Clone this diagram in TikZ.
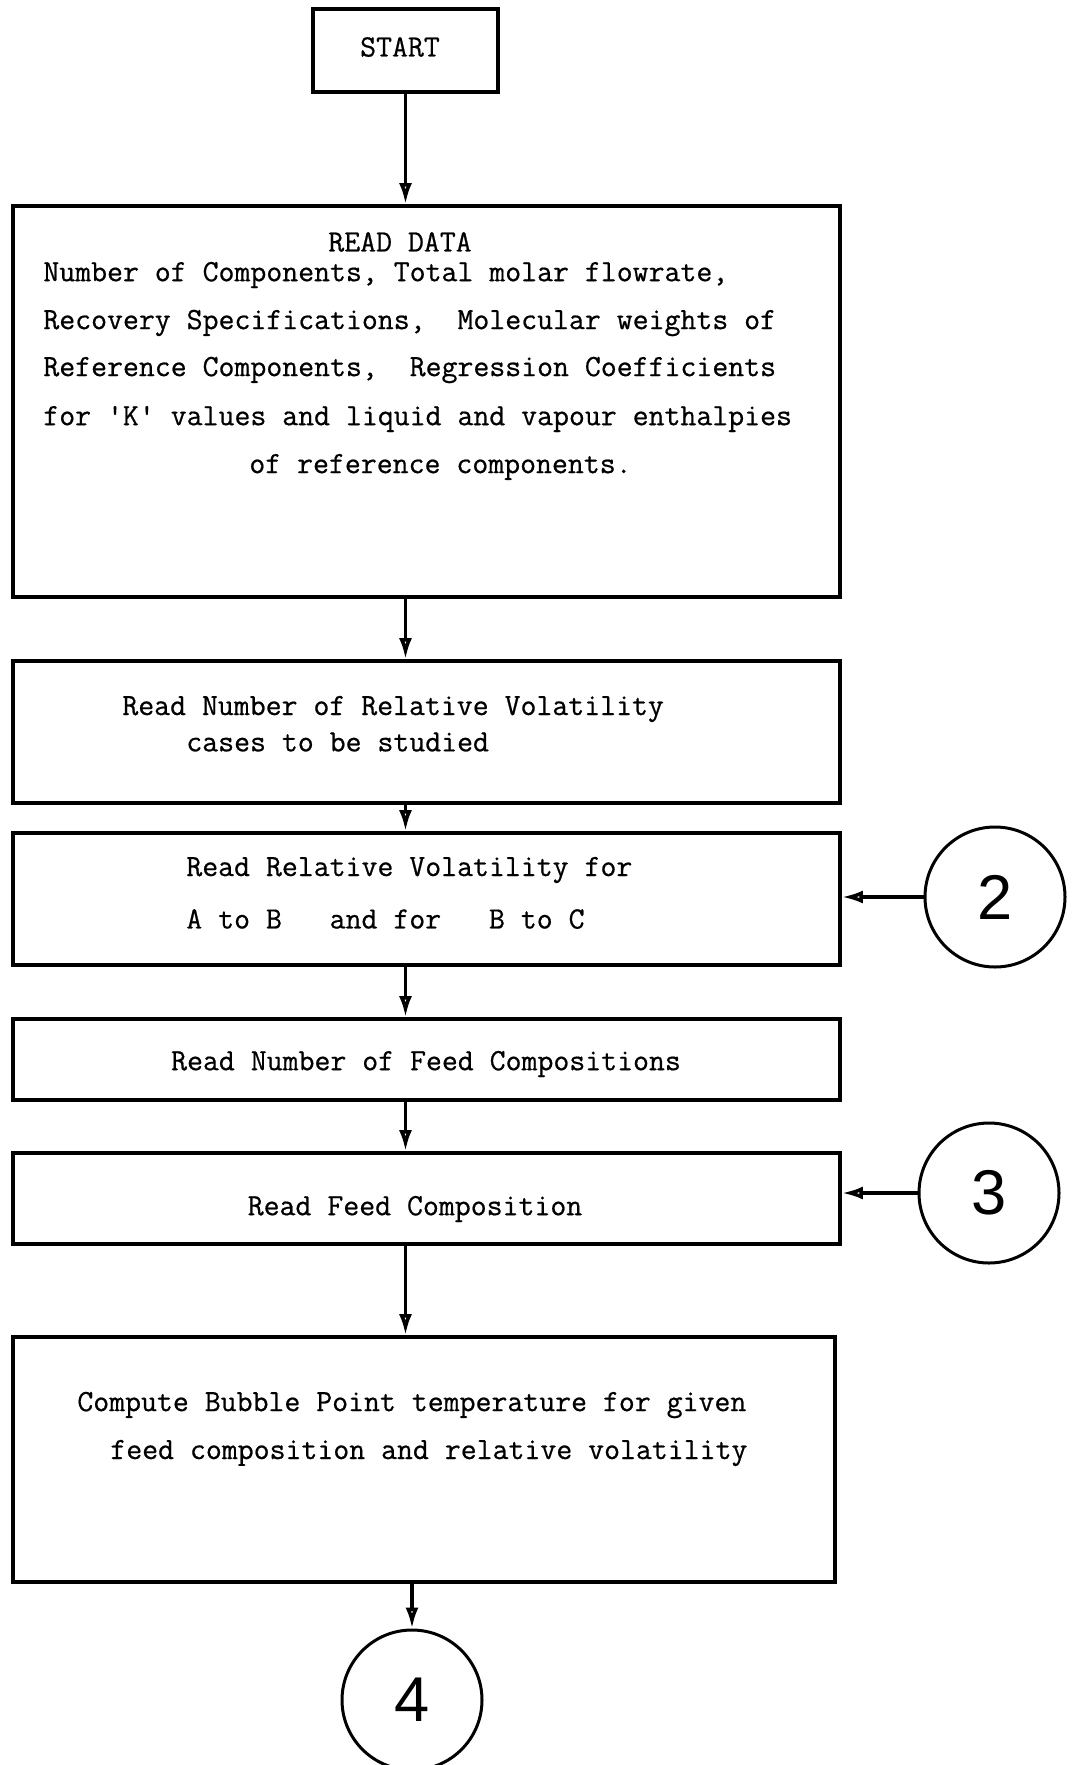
\documentclass[tikz,border=0pt]{standalone}
\usepackage{fontspec}
\newfontfamily\digitfont{Liberation Sans}
\newfontfamily\typefont[FakeBold=0.6]{Latin Modern Mono}
\usetikzlibrary{arrows.meta}
\tikzset{
	stepbox/.style={draw, line width=0.75mm, inner sep=0pt},
	connector/.style={draw, circle, line width=0.6mm, minimum size=2.8cm, inner sep=0pt, font=\digitfont\fontsize{36}{36}\selectfont},
	flow/.style={line width=0.7mm, -{Latex[open, length=0.42cm, width=0.26cm]}},
	txt/.style={inner sep=0pt, font=\typefont\fontsize{17.6}{20}\selectfont}
}

\begin{document}
\begin{tikzpicture}
		%%%%% START %%%%%
		\useasboundingbox (0, 0) rectangle (21.5, -35.3);
		
		\node[stepbox, minimum width=3.7cm, minimum height=1.66cm] (start) at (8.11, -1.01) {};
		\node[txt] (starttxt) at (8.0, -0.94) {START};
		
		\node[stepbox, minimum width=16.54cm, minimum height=7.82cm] (readdata) at (8.53, -8.03) {};
		\node[txt] (rdhead) at (8.0, -4.84) {READ DATA};
		\node[txt, anchor=west] (rd1) at (0.86, -5.5) {Number of Components, Total molar flowrate,};
		\node[txt, anchor=west] (rd2) at (0.86, -6.46) {Recovery Specifications,\ \ Molecular weights of};
		\node[txt, anchor=west] (rd3) at (0.86, -7.4) {Reference Components,\ \ Regression Coefficients};
		\node[txt, anchor=west] (rd4) at (0.86, -8.38) {for 'K' values and liquid and vapour enthalpies};
		\node[txt, anchor=west] (rd5) at (4.98, -9.34) {of reference components.};
		
		\node[stepbox, minimum width=16.54cm, minimum height=2.84cm] (ncases) at (8.53, -14.64) {};
		\node[txt, anchor=west] (nc1) at (2.44, -14.18) {Read Number of Relative Volatility};
		\node[txt, anchor=west] (nc2) at (3.72, -14.84) {cases to be studied};
		
		\node[stepbox, minimum width=16.54cm, minimum height=2.64cm] (relvol) at (8.53, -17.98) {};
		\node[txt, anchor=west] (rv1) at (3.72, -17.4) {Read Relative Volatility for};
		\node[txt, anchor=west] (rv2) at (3.72, -18.38) {A to B\ \ \ and for\ \ \ B to C};
		
		\node[stepbox, minimum width=16.54cm, minimum height=1.62cm] (nfeed) at (8.53, -21.19) {};
		\node[txt] (nf1) at (8.52, -21.28) {Read Number of Feed Compositions};
		
		\node[stepbox, minimum width=16.54cm, minimum height=1.82cm] (feed) at (8.53, -23.97) {};
		\node[txt] (fc1) at (8.3, -24.18) {Read Feed Composition};
		
		\node[stepbox, minimum width=16.44cm, minimum height=4.9cm] (bubble) at (8.48, -29.19) {};
		\node[txt, anchor=west] (bp1) at (1.54, -28.1) {Compute Bubble Point temperature for given};
		\node[txt, anchor=west] (bp2) at (2.2, -29.06) {feed composition and relative volatility};
		
		% connectors
		\node[connector] (two) at (19.9, -17.94) {2};
		\node[connector] (three) at (19.78, -23.86) {3};
		\node[connector] (four) at (8.24, -34.0) {4};
		
		% flow lines
		\draw[flow] (start.south) -- (start.south |- readdata.north);
		\draw[flow] (start.south |- readdata.south) -- (start.south |- ncases.north);
		\draw[flow] (start.south |- ncases.south) -- (start.south |- relvol.north);
		\draw[flow] (start.south |- relvol.south) -- (start.south |- nfeed.north);
		\draw[flow] (start.south |- nfeed.south) -- (start.south |- feed.north);
		\draw[flow] (start.south |- feed.south) -- (start.south |- bubble.north);
		\draw[flow] (four.north |- bubble.south) -- (four.north);
		
		\draw[flow] (two.west) -- (two.west -| relvol.east);
		\draw[flow] (three.west) -- (three.west -| feed.east);
		
		%%%%% END %%%%%
	\end{tikzpicture}
\end{document}
